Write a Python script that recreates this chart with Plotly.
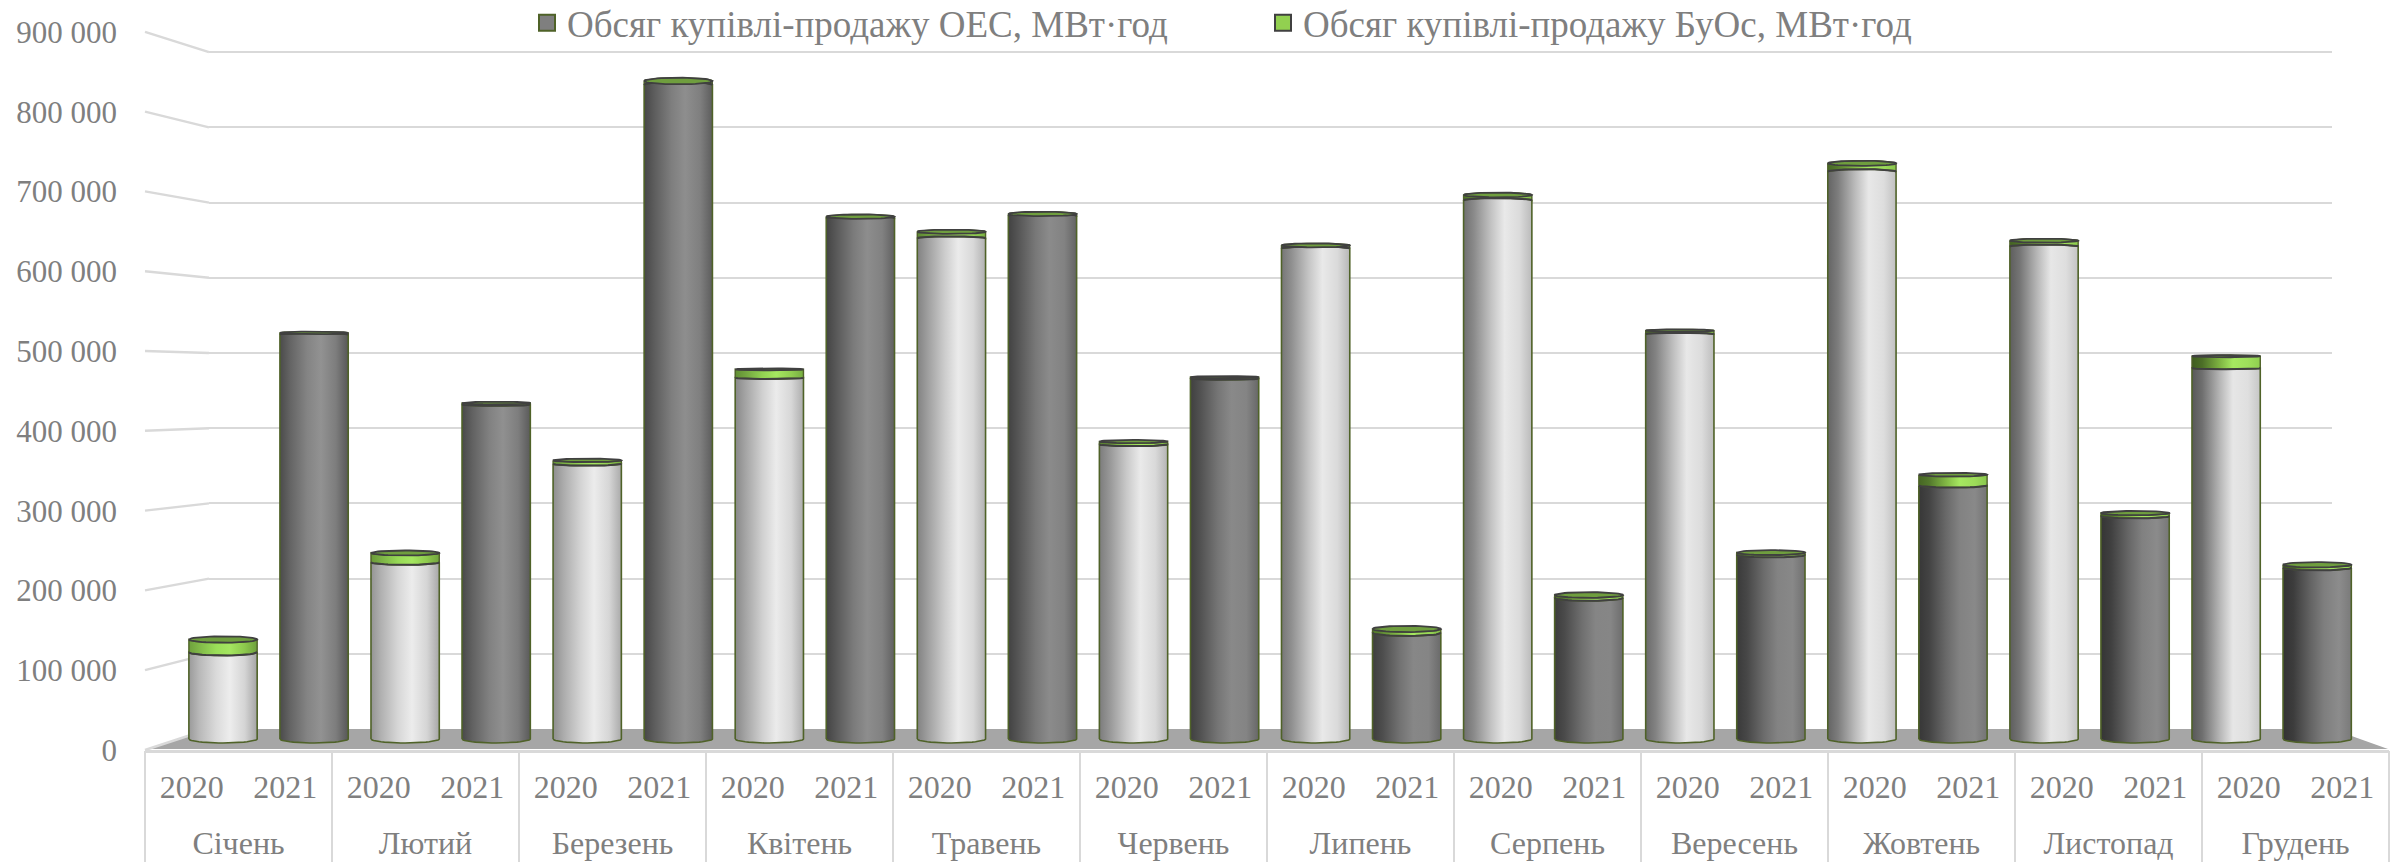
import math
import plotly.graph_objects as go

months = ["Січень", "Лютий", "Березень", "Квітень", "Травень", "Червень",
          "Липень", "Серпень", "Вересень", "Жовтень", "Листопад", "Грудень"]
years = ["2020", "2021"]
oes = [112000, 522000, 228000, 431500, 355000, 844000, 466000, 672000, 646000, 675000, 380000, 465000,
       633000, 137000, 695000, 182000, 522500, 237500, 732000, 327000, 635500, 287500, 478500, 221000]
buos = [16400, 2000, 12000, 2000, 4500, 5000, 11000, 2000, 8500, 2500, 3800, 2000,
        4000, 5000, 7000, 3800, 4500, 3000, 10800, 14000, 7500, 4000, 15500, 3800]
y_ticks = [0, 100000, 200000, 300000, 400000, 500000, 600000, 700000, 800000, 900000]
y_text = ["0", "100 000", "200 000", "300 000", "400 000", "500 000", "600 000", "700 000", "800 000", "900 000"]
legend_names = ["Обсяг купівлі-продажу ОЕС, МВт·год", "Обсяг купівлі-продажу БуОс, МВт·год"]

W, H = 2392, 862
TEXT = "#7f7f7f"
GRID = "#d9d9d9"
FONT = "Liberation Serif"
EDGE = "#4f6228"
RIM = "#404040"


def px_x(p):
    return p / W


def px_y(p):
    return (H - p) / H


def front_y(v):
    return 750 - 79.8 * v / 100000


def back_y(v):
    return 729 - 75.2 * v / 100000


STOPS = [0, 0.15, 0.4, 0.6, 0.82, 1]
LIGHT = (["#9a9a9a", "#b8b8b8", "#dadada", "#ededed", "#d4d4d4", "#a4a4a4"],
         ["#555555", "#6c6c6c", "#b2b2b2", "#e6e6e6", "#e0e0e0", "#c8c8c8"])
DARK = (["#4c4c4c", "#666666", "#868686", "#939393", "#7c7c7c", "#555555"],
        ["#333333", "#3c3c3c", "#636363", "#7e7e7e", "#8c8c8c", "#7a7a7a"])
GREEN = (["#6ea03c", "#80b848", "#9ade58", "#a4e660", "#8cc84c", "#6ea03c"],
         ["#3d5a1e", "#4a6b26", "#7cb040", "#a6e860", "#a0e05c", "#90d050"])


def hex_rgb(c):
    return [int(c[k:k + 2], 16) for k in (1, 3, 5)]


def scale(pair, t):
    out = []
    for pos, a, b in zip(STOPS, pair[0], pair[1]):
        ca, cb = hex_rgb(a), hex_rgb(b)
        mix = [round(x + (y - x) * t) for x, y in zip(ca, cb)]
        out.append([pos, f"rgb({mix[0]},{mix[1]},{mix[2]})"])
    return out


PX_PER_UNIT = 77.5 / 100000
HALF = 0.375
N_ARC = 24


def dip(v):
    """signed semi-minor axis of a rim, in value units (positive: front arc dips)"""
    px = 3.0 * (480000 - v) / 480000
    px += 1.0 if px >= 0 else -1.0
    return px / PX_PER_UNIT


def arc(center, v, sign=1, reverse=False):
    xs, ys = [], []
    for k in range(N_ARC + 1):
        th = math.pi * k / N_ARC
        xs.append(center - HALF * math.cos(th))
        ys.append(v - sign * dip(v) * math.sin(th))
    if reverse:
        xs.reverse()
        ys.reverse()
    return xs, ys


def segment(center, v0, v1):
    x0, y0 = arc(center, v0)
    x1, y1 = arc(center, v1, reverse=True)
    return x0 + x1 + [x0[0]], y0 + y1 + [y0[0]]


fig = go.Figure()

pos = list(range(len(oes)))
totals = [a + b for a, b in zip(oes, buos)]

# carrier traces so that every axis is drawn
fig.add_trace(go.Scatter(x=pos, y=totals, mode="markers", marker=dict(opacity=0, size=1),
                         showlegend=False, hoverinfo="skip", xaxis="x", yaxis="y"))
fig.add_trace(go.Scatter(x=[None], y=[None], mode="lines", showlegend=False, hoverinfo="skip",
                         xaxis="x2", yaxis="y2"))
fig.add_trace(go.Scatter(x=[None], y=[None], mode="lines", showlegend=False, hoverinfo="skip",
                         xaxis="x4", yaxis="y"))

bar_cols = ["#d9d9d9" if i % 2 == 0 else "#7f7f7f" for i in pos]
fig.add_trace(go.Bar(x=pos, y=oes, width=2 * HALF, marker=dict(color=bar_cols, line=dict(width=0)),
                     name=legend_names[0], showlegend=False, xaxis="x3", yaxis="y3"))
fig.add_trace(go.Bar(x=pos, y=buos, width=2 * HALF, marker=dict(color="#92d050", line=dict(width=0)),
                     name=legend_names[1], showlegend=False, xaxis="x3", yaxis="y3"))

for i in pos:
    t = i / (len(pos) - 1)
    pair = LIGHT if i % 2 == 0 else DARK
    sx, sy = segment(i, 0, oes[i])
    fig.add_trace(go.Scatter(x=sx, y=sy, mode="lines", fill="toself", line=dict(color=EDGE, width=1.6),
                             fillgradient=dict(type="horizontal", colorscale=scale(pair, t)),
                             showlegend=False, hoverinfo="skip", xaxis="x3", yaxis="y3"))
    sx, sy = segment(i, oes[i], totals[i])
    fig.add_trace(go.Scatter(x=sx, y=sy, mode="lines", fill="toself", line=dict(color=EDGE, width=1.4),
                             fillgradient=dict(type="horizontal", colorscale=scale(GREEN, t)),
                             showlegend=False, hoverinfo="skip", xaxis="x3", yaxis="y3"))
    rx, ry = arc(i, oes[i])
    fig.add_trace(go.Scatter(x=rx, y=ry, mode="lines", line=dict(color=RIM, width=2),
                             showlegend=False, hoverinfo="skip", xaxis="x3", yaxis="y3"))
    lx, ly = arc(i, totals[i])
    ux, uy = arc(i, totals[i], sign=-1, reverse=True)
    fig.add_trace(go.Scatter(x=lx + ux, y=ly + uy, mode="lines", fill="toself", fillcolor="#6f9e3e",
                             line=dict(color=RIM, width=1.8),
                             showlegend=False, hoverinfo="skip", xaxis="x3", yaxis="y3"))

for name, col, edge in zip(legend_names, ["#7f7f7f", "#92d050"], [EDGE, RIM]):
    fig.add_trace(go.Scatter(x=[None], y=[None], mode="markers", name=name,
                             marker=dict(symbol="square", size=16, color=col, line=dict(color=edge, width=2)),
                             xaxis="x3", yaxis="y3"))

shapes = [dict(type="path", xref="paper", yref="paper", layer="below", line=dict(width=0), fillcolor="#a6a6a6",
               path=f"M{px_x(148)},{px_y(749)} L{px_x(209)},{px_y(729)} L{px_x(2332)},{px_y(729)} L{px_x(2388)},{px_y(749)} Z")]
for v in y_ticks:
    shapes.append(dict(type="line", xref="paper", yref="paper", layer="below", line=dict(color=GRID, width=2.4),
                       x0=px_x(145), y0=px_y(front_y(v)), x1=px_x(209), y1=px_y(back_y(v))))

BAR_Y_BOTTOM, BAR_Y_TOP = -50000, 950000
WALL_TOP = 920000
month_pos = [2 * m + 0.5 for m in range(len(months))]
dividers = [2 * m - 0.5 for m in range(len(months) + 1)]

fig.update_layout(
    width=W, height=H, paper_bgcolor="white", plot_bgcolor="rgba(0,0,0,0)",
    margin=dict(l=0, r=0, t=0, b=0, autoexpand=False), barmode="stack", shapes=shapes,
    font=dict(family=FONT, color=TEXT, size=31),
    legend=dict(orientation="h", x=px_x(527), xanchor="left", y=1.009, yanchor="top", traceorder="normal",
                entrywidth=691, entrywidthmode="pixels", itemwidth=30,
                font=dict(family=FONT, color=TEXT, size=37), bgcolor="rgba(0,0,0,0)"),
    xaxis=dict(domain=[px_x(145), px_x(2389)], anchor="y", range=[-0.5, 23.5],
               showline=True, linecolor=GRID, linewidth=3, showgrid=False, zeroline=False, ticks="",
               tickvals=pos, ticktext=[years[i % 2] for i in pos], tickangle=0,
               tickfont=dict(family=FONT, size=32, color=TEXT), ticklabelstandoff=7),
    xaxis4=dict(domain=[px_x(145), px_x(2389)], anchor="y", overlaying="x", side="bottom", range=[-0.5, 23.5],
                showline=False, showgrid=False, zeroline=False, ticks="",
                tickvals=month_pos, ticktext=months, tickangle=0,
                tickfont=dict(family=FONT, size=32, color=TEXT), ticklabelstandoff=71,
                minor=dict(tickmode="array", tickvals=dividers, ticks="outside", ticklen=112,
                           tickcolor=GRID, tickwidth=2.4, showgrid=False)),
    yaxis=dict(domain=[px_y(750), px_y(32)], range=[0, 900000], anchor="x", showgrid=False, zeroline=False,
               tickvals=y_ticks, ticktext=y_text, ticklabelstandoff=27, showline=False,
               tickfont=dict(family=FONT, size=31, color=TEXT)),
    xaxis2=dict(domain=[px_x(209), px_x(2332)], anchor="y2", visible=False, range=[0, 1]),
    yaxis2=dict(domain=[px_y(729), px_y(back_y(WALL_TOP))], range=[0, WALL_TOP], anchor="x2",
                tickvals=y_ticks, showticklabels=False,
                showgrid=True, gridcolor=GRID, gridwidth=2.4, zeroline=False, showline=False),
    xaxis3=dict(domain=[px_x(177.5), px_x(2362.7)], anchor="y3", visible=False, range=[-0.5, 23.5]),
    yaxis3=dict(domain=[px_y(739 + 50000 * PX_PER_UNIT), px_y(739 - 950000 * PX_PER_UNIT)],
                range=[BAR_Y_BOTTOM, BAR_Y_TOP], anchor="x3", visible=False),
)

fig.write_html("out.html", config={"displayModeBar": False}, post_script="document.body.style.margin='0';")
